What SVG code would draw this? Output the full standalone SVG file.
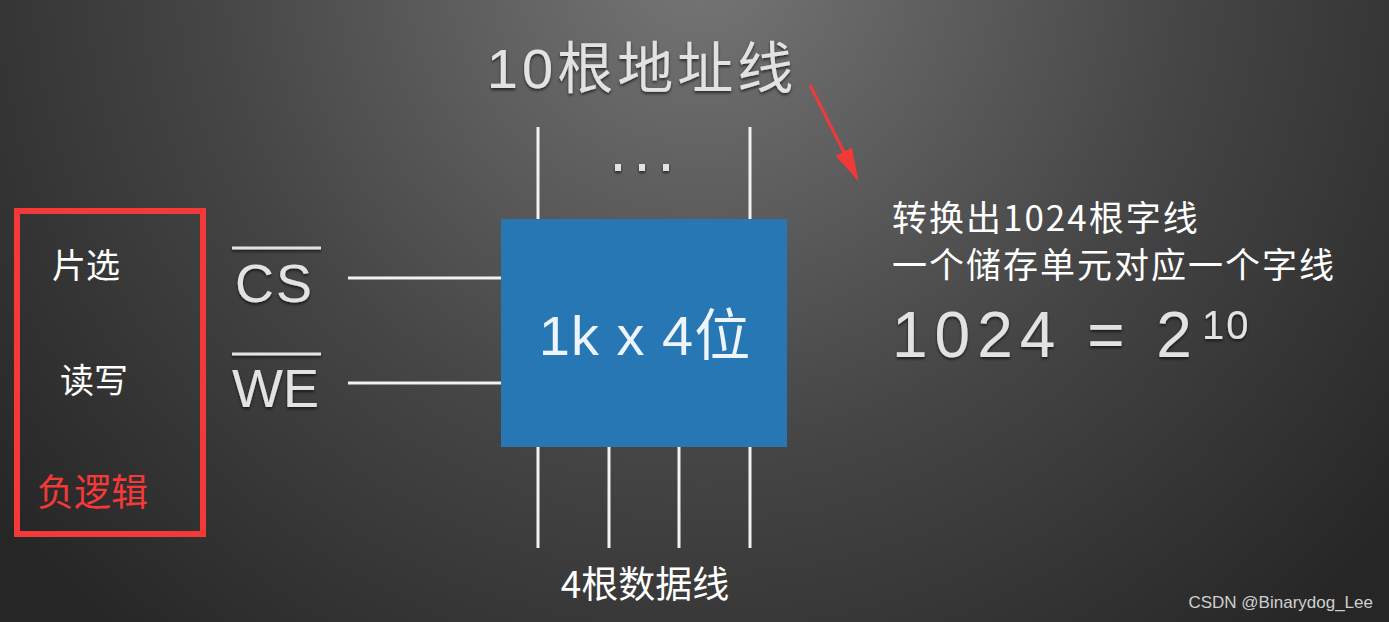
<svg xmlns="http://www.w3.org/2000/svg" width="1389" height="622" viewBox="0 0 1389 622">
<defs>
<radialGradient id="bg" cx="700" cy="-40" r="900" gradientUnits="userSpaceOnUse">
<stop offset="0" stop-color="#767676"/>
<stop offset="0.55" stop-color="#454545"/>
<stop offset="1" stop-color="#262626"/>
</radialGradient>
<filter id="sh" x="-10%" y="-10%" width="120%" height="130%">
<feDropShadow dx="0" dy="2" stdDeviation="1.5" flood-color="#000" flood-opacity="0.6"/>
</filter>
<marker id="ah" viewBox="0 0 10 10" refX="9" refY="5" markerWidth="11" markerHeight="11" orient="auto" markerUnits="strokeWidth">
<path d="M0,2.2 L10,5 L0,7.8 z" fill="#f03a3a"/>
</marker>
</defs>
<style>
.sig{font-family:"Liberation Sans","Noto Sans CJK SC",sans-serif;fill:#e2e2e2;}
.cn{font-family:"Noto Sans CJK SC","Liberation Sans",sans-serif;fill:#ffffff;}
.wire{stroke:#f2f2f2;stroke-width:3;fill:none;}
</style>
<rect x="0" y="0" width="1389" height="622" fill="url(#bg)"/>

<g id="connectors">
<line class="wire" x1="538" y1="127" x2="538" y2="219"/>
<line class="wire" x1="750" y1="127" x2="750" y2="219"/>
<line class="wire" x1="348" y1="278" x2="501" y2="278"/>
<line class="wire" x1="348" y1="383" x2="501" y2="383"/>
<line class="wire" x1="538" y1="447" x2="538" y2="548"/>
<line class="wire" x1="609" y1="447" x2="609" y2="548"/>
<line class="wire" x1="679" y1="447" x2="679" y2="548"/>
<line class="wire" x1="750" y1="447" x2="750" y2="548"/>
<line x1="810" y1="85" x2="857" y2="178" stroke="#f03a3a" stroke-width="3" marker-end="url(#ah)"/>
</g>

<g id="chip">
<rect x="501" y="219" width="286" height="228" fill="#2777b4"/>
<text class="sig" x="645" y="355" font-size="56" text-anchor="middle" letter-spacing="1" style="fill:#eef4fa">1k x 4位</text>
</g>

<g id="addr-label" filter="url(#sh)">
<text class="sig" x="642" y="88" font-size="56" text-anchor="middle" letter-spacing="4">10根地址线</text>
<g fill="#e2e2e2">
<rect x="615" y="164" width="6" height="7"/>
<rect x="639" y="164" width="6" height="7"/>
<rect x="663" y="164" width="6" height="7"/>
</g>
</g>

<g id="cs" filter="url(#sh)">
<line x1="232" y1="248" x2="321" y2="248" stroke="#e2e2e2" stroke-width="3"/>
<text class="sig" x="235" y="302" font-size="54" letter-spacing="2">CS</text>
</g>
<g id="we" filter="url(#sh)">
<line x1="232" y1="354" x2="321" y2="354" stroke="#e2e2e2" stroke-width="3"/>
<text class="sig" x="232" y="407" font-size="54">WE</text>
</g>

<g id="legend">
<rect x="17" y="211" width="186" height="323" fill="none" stroke="#f53838" stroke-width="6"/>
<text class="cn" x="52" y="278" font-size="34">片选</text>
<text class="cn" x="60" y="393" font-size="34">读写</text>
<text class="cn" x="37" y="506" font-size="37" style="fill:#f53838">负逻辑</text>
</g>

<g id="note">
<text class="cn" x="892" y="231" font-size="35" letter-spacing="2">转换出1024根字线</text>
<text class="cn" x="892" y="278" font-size="35" letter-spacing="2">一个储存单元对应一个字线</text>
<g filter="url(#sh)">
<text class="sig" x="892" y="357" font-size="64" letter-spacing="7">1024 = 2</text>
<text class="sig" x="1202" y="339" font-size="40" letter-spacing="2">10</text>
</g>
</g>

<g id="data-label">
<text class="cn" x="645" y="598" font-size="37" text-anchor="middle">4根数据线</text>
</g>

<text x="1373" y="608" font-family="Liberation Sans, sans-serif" font-size="17" fill="#d0d0d0" text-anchor="end">CSDN @Binarydog_Lee</text>
</svg>
